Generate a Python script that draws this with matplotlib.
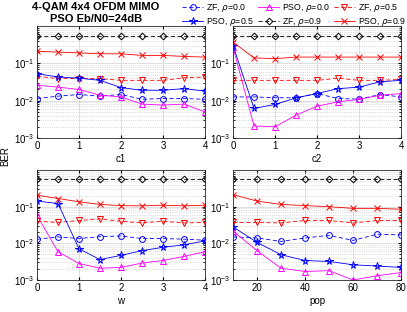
import matplotlib
import matplotlib.pyplot as plt
import numpy as np

matplotlib.use("Agg")

plt.rcParams["font.family"] = ["Liberation Sans", "DejaVu Sans"]
plt.rcParams["font.size"] = 7

# x axes
c_vals = [0, 0.5, 1, 1.5, 2, 2.5, 3, 3.5, 4]
pop_vals = [10, 20, 30, 40, 50, 60, 70, 80]

# c1 sweep
c1_zf0 = [0.0114, 0.0132, 0.0146, 0.0132, 0.0146, 0.0109, 0.0114, 0.0114, 0.0109]
c1_pso0 = [0.026, 0.023, 0.020, 0.014, 0.0126, 0.0081, 0.0076, 0.0081, 0.005]
c1_zf5 = [0.045, 0.039, 0.039, 0.039, 0.035, 0.035, 0.035, 0.041, 0.043]
c1_pso5 = [0.053, 0.043, 0.040, 0.035, 0.0224, 0.019, 0.019, 0.021, 0.018]
c1_zf9 = [0.55, 0.55, 0.55, 0.55, 0.55, 0.55, 0.55, 0.55, 0.55]
c1_pso9 = [0.21, 0.20, 0.19, 0.18, 0.18, 0.163, 0.163, 0.153, 0.147]

# c2 sweep
c2_zf0 = [0.0126, 0.0126, 0.012, 0.0119, 0.0155, 0.0114, 0.011, 0.0146, 0.0126]
c2_pso0 = [0.27, 0.0021, 0.002, 0.0041, 0.0071, 0.0093, 0.0108, 0.014, 0.0155]
c2_zf5 = [0.035, 0.035, 0.035, 0.035, 0.035, 0.040, 0.035, 0.035, 0.037]
c2_pso5 = [0.30, 0.0062, 0.0079, 0.0119, 0.0155, 0.021, 0.023, 0.032, 0.035]
c2_zf9 = [0.55, 0.55, 0.55, 0.55, 0.55, 0.55, 0.55, 0.55, 0.55]
c2_pso9 = [0.37, 0.14, 0.133, 0.147, 0.147, 0.147, 0.147, 0.147, 0.147]

# w sweep
w_zf0 = [0.0129, 0.015, 0.0135, 0.0152, 0.0159, 0.0135, 0.0135, 0.013, 0.0122]
w_pso0 = [0.058, 0.0059, 0.0028, 0.0021, 0.0022, 0.0029, 0.0034, 0.0044, 0.0059]
w_zf5 = [0.040, 0.037, 0.042, 0.046, 0.040, 0.036, 0.040, 0.036, 0.037]
w_pso5 = [0.142, 0.122, 0.0071, 0.0036, 0.0047, 0.0063, 0.0078, 0.0091, 0.0117]
w_zf9 = [0.57, 0.57, 0.57, 0.57, 0.57, 0.57, 0.57, 0.57, 0.57]
w_pso9 = [0.205, 0.167, 0.136, 0.115, 0.107, 0.105, 0.11, 0.105, 0.11]

# pop sweep
pop_zf0 = [0.015, 0.014, 0.0113, 0.014, 0.0165, 0.012, 0.0177, 0.017]
pop_pso0 = [0.0216, 0.0063, 0.0021, 0.0017, 0.0018, 0.001, 0.0013, 0.0016]
pop_zf5 = [0.037, 0.037, 0.036, 0.042, 0.042, 0.036, 0.042, 0.042]
pop_pso5 = [0.028, 0.0106, 0.0049, 0.0034, 0.0032, 0.0026, 0.0024, 0.0022]
pop_zf9 = [0.57, 0.57, 0.57, 0.57, 0.57, 0.57, 0.57, 0.57]
pop_pso9 = [0.213, 0.142, 0.115, 0.107, 0.1, 0.09, 0.09, 0.085]

labels = [
    r"ZF, $\rho$=0.0",
    r"PSO, $\rho$=0.0",
    r"ZF, $\rho$=0.5",
    r"PSO, $\rho$=0.5",
    r"ZF, $\rho$=0.9",
    r"PSO, $\rho$=0.9",
]
styles = [
    dict(color="blue", marker="o", linestyle="--"),
    dict(color="magenta", marker="^", linestyle="-"),
    dict(color="red", marker="v", linestyle="--"),
    dict(color="blue", marker="*", linestyle="-"),
    dict(color="black", marker="D", linestyle="--"),
    dict(color="red", marker="x", linestyle="-"),
]
marker_sizes = [4.2, 4.2, 4.2, 5.5, 3.4, 4.2]

panels = [
    (c_vals, [c1_zf0, c1_pso0, c1_zf5, c1_pso5, c1_zf9, c1_pso9], "c1"),
    (c_vals, [c2_zf0, c2_pso0, c2_zf5, c2_pso5, c2_zf9, c2_pso9], "c2"),
    (c_vals, [w_zf0, w_pso0, w_zf5, w_pso5, w_zf9, w_pso9], "w"),
    (pop_vals, [pop_zf0, pop_pso0, pop_zf5, pop_pso5, pop_zf9, pop_pso9], "pop"),
]

# axes boxes [left, bottom, width, height] in figure fraction
positions = [
    [0.0909, 0.5577, 0.4128, 0.359],
    [0.5725, 0.5577, 0.4128, 0.359],
    [0.0909, 0.1026, 0.4128, 0.3525],
    [0.5725, 0.1026, 0.4128, 0.3525],
]

fig = plt.figure(figsize=(4.07, 3.12), dpi=100)

handles = []
for i, (x, series, xlab) in enumerate(panels):
    ax = fig.add_axes(positions[i])
    for j, y in enumerate(series):
        (h,) = ax.plot(
            x,
            y,
            linewidth=0.6,
            markersize=marker_sizes[j],
            markerfacecolor="none",
            markeredgewidth=0.7,
            dashes=(5, 3) if styles[j]["linestyle"] == "--" else (None, None),
            **styles[j],
        )
        if i == 0:
            handles.append(h)
    ax.set_yscale("log")
    ax.set_ylim(1e-3, 1)
    ax.set_xlim(x[0], x[-1])
    if xlab == "pop":
        ax.set_xticks([20, 40, 60, 80])
    else:
        ax.set_xticks([0, 1, 2, 3, 4])
    ax.set_yticks([1e-3, 1e-2, 1e-1])
    ax.set_xlabel(xlab, labelpad=2)
    ax.grid(True, which="major", color="0.85", linewidth=0.6)
    ax.grid(True, which="minor", axis="y", color="0.75", linewidth=0.5, linestyle=":")
    ax.tick_params(which="both", direction="in", top=True, right=True, length=2.5, pad=2)
    ax.tick_params(which="minor", length=1.5)
    for s in ax.spines.values():
        s.set_color("0.15")
        s.set_linewidth(0.6)
    ax.set_axisbelow(True)

fig.text(0.236, 0.995, "4-QAM 4x4 OFDM MIMO\nPSO Eb/N0=24dB",
         ha="center", va="top", fontsize=8, fontweight="bold", linespacing=1.3)
fig.text(0.012, 0.5, "BER", rotation=90, ha="center", va="center")

# legend filled row by row like the original
order = [0, 3, 1, 4, 2, 5]
fig.legend([handles[k] for k in order], [labels[k] for k in order], ncol=3,
           loc="upper right", bbox_to_anchor=(1.0, 1.0),
           frameon=False, fontsize=6.3, handlelength=2.4, columnspacing=0.5,
           handletextpad=0.3, labelspacing=0.3, borderaxespad=0.1, borderpad=0.1)

fig.savefig("out.png", dpi=100)
